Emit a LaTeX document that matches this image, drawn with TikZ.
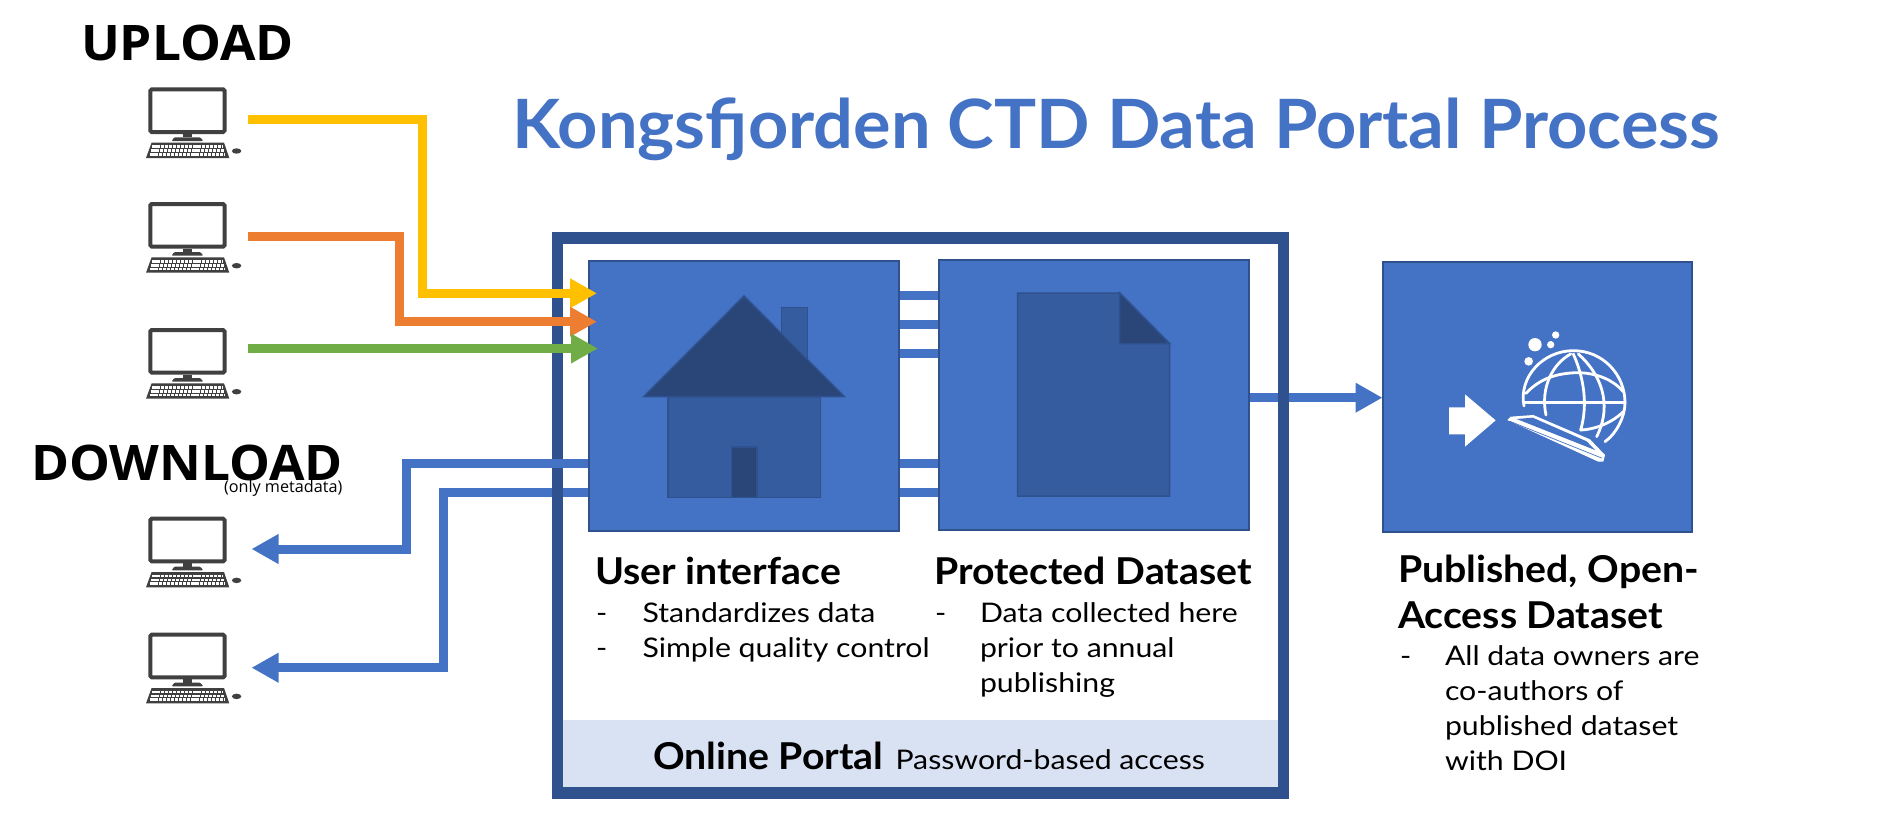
\documentclass[tikz,border=0pt]{standalone}
\usepackage{fontspec}
\setmainfont{Lato}
\newfontfamily\opensans{Open Sans}
\newfontfamily\opensanswide[FakeStretch=1.05]{Open Sans}
\newfontfamily\titlefont[FakeStretch=1.034]{Lato}
\newfontfamily\headfont[FakeStretch=1.06]{Lato}
\newfontfamily\bodyfont[FakeStretch=1.12]{Lato}
\usetikzlibrary{arrows.meta}
\definecolor{mblue}{HTML}{4472C4}
\definecolor{fblue}{HTML}{2F528F}
\definecolor{hblue}{HTML}{355C9F}
\definecolor{rblue}{HTML}{2A4578}
\definecolor{band}{HTML}{D9E2F3}
\definecolor{yel}{HTML}{FFC000}
\definecolor{org}{HTML}{ED7D31}
\definecolor{grn}{HTML}{70AD47}
\definecolor{pcgray}{HTML}{404040}
\pgfdeclarelayer{under}\pgfdeclarelayer{framelayer}\pgfdeclarelayer{over}\pgfdeclarelayer{top}
\pgfsetlayers{under,framelayer,over,main,top}
\tikzset{
  txt/.style={inner sep=0pt,outer sep=0pt,anchor=base west,text=black},
  head/.style={txt,font=\headfont\fontsize{37}{37}\selectfont\bfseries},
  body/.style={txt,font=\bodyfont\fontsize{27}{27}\selectfont},
  bigtxt/.style={txt,font=\opensanswide\bfseries\fontsize{49}{49}\selectfont},
  panel/.style={draw=fblue,line width=2pt,fill=mblue,inner sep=0pt,outer sep=0pt,anchor=north west},
  conn/.style={line width=9pt,line join=miter,-{Triangle[length=27pt,width=28pt]}},
  bar/.style={line width=9pt,mblue},
  pcnode/.style={inner sep=0pt,outer sep=0pt,minimum width=78pt,minimum height=47pt,anchor=north west},
  hpart/.style={draw=fblue,line width=1.5pt},
  icon/.style={draw=white,line width=2.8pt,line cap=round},
  pics/computer/.style={code={
    \draw[pcgray,line width=4pt,rounded corners=1.5pt,fill=white] (2,2) rectangle (76.3,44.7);
    \fill[pcgray] (35,46.7) rectangle (43.3,50);
    \fill[pcgray,rounded corners=1pt] (23.3,53.7) -- (26,50) -- (52,50) -- (55,53.7) -- cycle;
    \fill[pcgray] (3.3,55.3) -- (75.7,55.3) -- (81,70.7) -- (-2.3,70.7) -- cycle;
    \foreach \yy/\xa/\xb in {59.3/4/74.5, 63.2/3/75.5, 67/2/76.5}
      \draw[white,line width=2.7pt,dash pattern=on 3.2pt off 0.9pt] (\xa,\yy) -- (\xb,\yy);
    \fill[pcgray] (88.3,63.7) ellipse[x radius=4.7,y radius=2.7];
  }}
}
\begin{document}
\begin{tikzpicture}[x=1pt,y=-1pt]
\useasboundingbox (0,0) rectangle (1899,823);
\begin{pgfonlayer}{under}
\fill[white] (0,0) rectangle (1899,823);
\end{pgfonlayer}

% title
\node[txt,text=mblue,font=\titlefont\fontsize{68}{68}\selectfont\bfseries] (title) at (512,148) {Kongsfjorden CTD Data Portal Process};
\node[bigtxt] (upload) at (81,60) {UPLOAD};
\node[bigtxt] (download) at (31,480) {DOWNLOAD};
\node[txt,font=\opensans\fontsize{16.2}{16.2}\selectfont] (meta) at (224,492.5) {(only metadata)};

% computers
\foreach \nm/\py in {pc1/87.3,pc2/202,pc3/328,pc4/516.7,pc5/632.7}{
  \node[pcnode] (\nm) at (148.3,\py) {};
  \pic at (148.3,\py) {computer};
}

% portal frame and band
\begin{pgfonlayer}{framelayer}
  \fill[band] (563,720) rectangle (1284,787);
  \node[draw=fblue,line width=11.5pt,inner sep=0pt,outer sep=0pt,anchor=north west,minimum width=726pt,minimum height=555pt] (frame) at (557.5,238) {};
\end{pgfonlayer}

% panels
\node[panel,minimum width=310pt,minimum height=270pt] (boxA) at (588.5,261.3) {};
\node[panel,minimum width=310pt,minimum height=270pt] (boxB) at (938.5,259.5) {};
\node[panel,minimum width=309.5pt,minimum height=270pt] (boxC) at (1382.5,261.5) {};

% house
\draw[hpart,fill=hblue] (781.4,307.3) rectangle (807.6,365);
\draw[hpart,fill=hblue] (668,397) rectangle (820.7,497.7);
\draw[hpart,fill=rblue] (744,296) -- (844.3,396.5) -- (643.8,396.5) -- cycle;
\draw[hpart,fill=rblue] (731.5,447) rectangle (757,497.7);

% document
\draw[hpart,fill=hblue] (1017.5,293) -- (1119.7,293) -- (1169.7,343.7) -- (1169.7,496) -- (1017.5,496) -- cycle;
\draw[hpart,fill=rblue] (1119.7,293) -- (1169.7,343.7) -- (1119.7,343.7) -- cycle;

% published icon
\begin{scope}[shift={(1400,280)},x=0.33333pt,y=-0.33333pt]
  \fill[white] (147,382) -- (195,382) -- (195,343) -- (287,421) -- (195,500) -- (195,463) -- (147,463) -- cycle;
  \fill[white] (405,194) circle[radius=20];
  \fill[white] (452,194) circle[radius=11];
  \fill[white] (467,165) circle[radius=11];
  \fill[white] (386,244) circle[radius=13];
  \draw[icon] (372,378) .. controls (355,290) and (430,212) .. (520,212) .. controls (610,212) and (675,285) .. (675,368) .. controls (675,410) and (650,460) .. (615,485);
  \draw[icon] (372,368) -- (675,368);
  \draw[icon] (378,340) .. controls (420,295) and (470,280) .. (530,278) .. controls (590,278) and (640,300) .. (670,335);
  \draw[icon] (512,222) .. controls (460,250) and (420,320) .. (438,405);
  \draw[icon] (520,222) .. controls (550,290) and (565,370) .. (542,450);
  \draw[icon] (535,222) .. controls (600,280) and (640,370) .. (590,470);
  \draw[icon] (542,450) .. controls (590,448) and (640,425) .. (670,395);
  \fill[white] (322,420) -- (332,410) -- (400,405) -- (570,478) -- (615,525) -- (610,545) -- (595,545) -- cycle;
  \fill[mblue] (350,417) -- (398,413) -- (560,484) -- (585,510) -- cycle;
  \draw[mblue,line width=0.7pt] (330,424) -- (605,534);
\end{scope}

% panel texts
\node[head] (h1) at (595,584) {User interface};
\node[body] (b11d) at (596,622) {-};
\node[body] (b11) at (642.5,622) {Standardizes data};
\node[body] (b12d) at (596,657.5) {-};
\node[body] (b12) at (642.5,657.5) {Simple quality control};
\node[head] (h2) at (934,584) {Protected Dataset};
\node[body] (b21d) at (935,622) {-};
\node[body] (b21) at (980,622) {Data collected here};
\node[body] (b22) at (980,657.5) {prior to annual};
\node[body] (b23) at (980,692.5) {publishing};
\node[head] (h3a) at (1398,582.5) {Published, Open-};
\node[head] (h3b) at (1398,628) {Access Dataset};
\node[body] (b31d) at (1400,665) {-};
\node[body] (b31) at (1445,665) {All data owners are};
\node[body] (b32) at (1445,700) {co-authors of};
\node[body] (b33) at (1445,735) {published dataset};
\node[body] (b34) at (1445,770) {with DOI};
\node[head] (portal) at (653,769) {Online Portal};
\node[body] (pw) at (895.5,769) {Password-based access};

% free ends and routing rows
\foreach \nm/\px/\py in {ya/247.5/119.3,yb/422.5/119.3,yc/422.5/293.3,yd/597/293.3,
  oa/247.5/236,ob/399.5/236,oc/399.5/321.7,od/597/321.7,
  ga/247.5/348.5,gd/598/348.5,
  da/406.5/463.3,db/406.5/549,dc/251.5/549,
  ea/443.2/492.3,eb/443.2/667.7,ec/251.5/667.7,
  r1/0/295,r2/0/324,r3/0/353,r4/0/463.3,r5/0/492.3,r6/0/397.7}
  \coordinate (\nm) at (\px,\py);

\begin{pgfonlayer}{under}
  \foreach \r in {r1,r2,r3,r4,r5}
    \draw[bar] (boxA.east |- \r) -- (boxB.west |- \r);
  \draw[mblue,conn] (boxA.west |- ea) -- (ea) -- (eb) -- (ec);
  \draw[mblue,conn] (boxB.east |- r6) -- (boxC.west |- r6);
\end{pgfonlayer}
\begin{pgfonlayer}{over}
  \draw[mblue,conn] (boxA.west |- da) -- (da) -- (db) -- (dc);
\end{pgfonlayer}
\begin{pgfonlayer}{top}
  \draw[yel,conn] (ya) -- (yb) -- (yc) -- (yd);
  \draw[org,conn] (oa) -- (ob) -- (oc) -- (od);
  \draw[grn,conn] (ga) -- (gd);
\end{pgfonlayer}
\end{tikzpicture}
\end{document}
